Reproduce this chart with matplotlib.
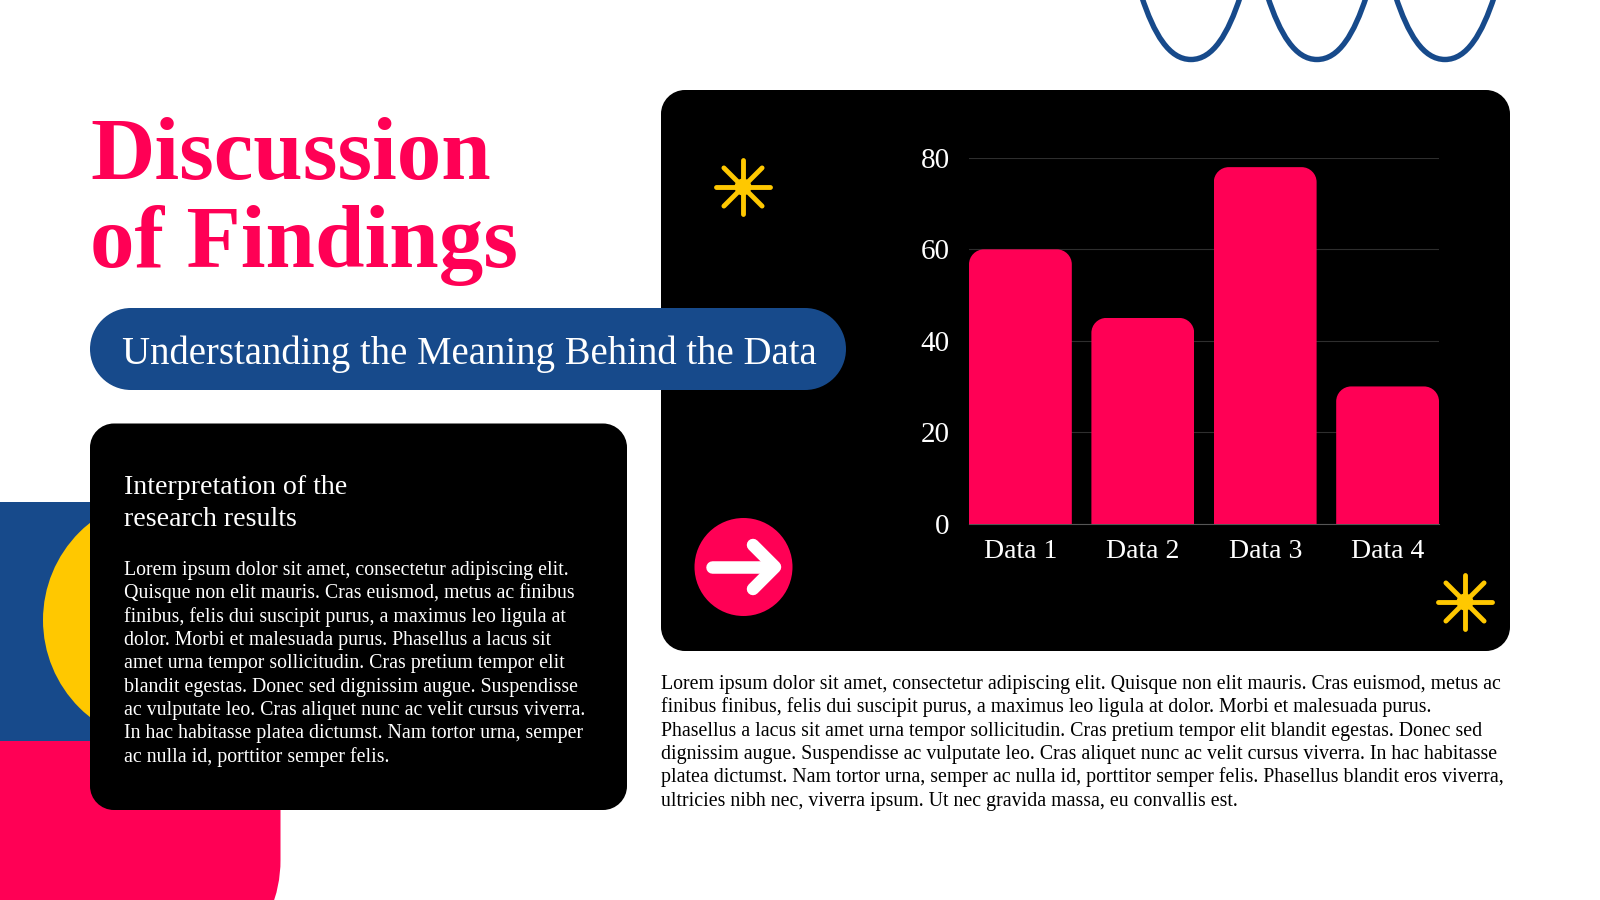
import numpy as np
import matplotlib
matplotlib.use("Agg")
import matplotlib.pyplot as plt
from matplotlib.patches import Rectangle, Circle, PathPatch
from matplotlib.path import Path

plt.rcParams['font.family'] = ['Liberation Serif', 'DejaVu Serif']

# --- data ---
categories = ["Data 1", "Data 2", "Data 3", "Data 4"]
values = [60, 45, 78, 30]
y_ticks = [0, 20, 40, 60, 80]

title_lines = ["Discussion", "of Findings"]
subtitle = "Understanding the Meaning Behind the Data"
heading_lines = ["Interpretation of the", "research results"]
left_body = [
    "Lorem ipsum dolor sit amet, consectetur adipiscing elit.",
    "Quisque non elit mauris. Cras euismod, metus ac finibus",
    "finibus, felis dui suscipit purus, a maximus leo ligula at",
    "dolor. Morbi et malesuada purus. Phasellus a lacus sit",
    "amet urna tempor sollicitudin. Cras pretium tempor elit",
    "blandit egestas. Donec sed dignissim augue. Suspendisse",
    "ac vulputate leo. Cras aliquet nunc ac velit cursus viverra.",
    "In hac habitasse platea dictumst. Nam tortor urna, semper",
    "ac nulla id, porttitor semper felis.",
]
right_body = [
    "Lorem ipsum dolor sit amet, consectetur adipiscing elit. Quisque non elit mauris. Cras euismod, metus ac",
    "finibus finibus, felis dui suscipit purus, a maximus leo ligula at dolor. Morbi et malesuada purus.",
    "Phasellus a lacus sit amet urna tempor sollicitudin. Cras pretium tempor elit blandit egestas. Donec sed",
    "dignissim augue. Suspendisse ac vulputate leo. Cras aliquet nunc ac velit cursus viverra. In hac habitasse",
    "platea dictumst. Nam tortor urna, semper ac nulla id, porttitor semper felis. Phasellus blandit eros viverra,",
    "ultricies nibh nec, viverra ipsum. Ut nec gravida massa, eu convallis est.",
]

PINK = "#FF0055"
BLUE = "#174A8B"
YELLOW = "#FFC800"
BLACK = "#000000"
K = 0.5523

fig = plt.figure(figsize=(16, 9), dpi=100, facecolor="white")

# pixel-coordinate layer for the slide decoration
bg = fig.add_axes([0, 0, 1, 1], zorder=0)
bg.set_xlim(0, 1600)
bg.set_ylim(900, 0)
bg.axis("off")


def rbox(x0, y0, x1, y1, r, color, z=1):
    c = K * r
    verts = [(x0 + r, y0), (x1 - r, y0),
             (x1 - r + c, y0), (x1, y0 + r - c), (x1, y0 + r),
             (x1, y1 - r),
             (x1, y1 - r + c), (x1 - r + c, y1), (x1 - r, y1),
             (x0 + r, y1),
             (x0 + r - c, y1), (x0, y1 - r + c), (x0, y1 - r),
             (x0, y0 + r),
             (x0, y0 + r - c), (x0 + r - c, y0), (x0 + r, y0),
             (x0 + r, y0)]
    codes = [Path.MOVETO, Path.LINETO,
             Path.CURVE4, Path.CURVE4, Path.CURVE4,
             Path.LINETO,
             Path.CURVE4, Path.CURVE4, Path.CURVE4,
             Path.LINETO,
             Path.CURVE4, Path.CURVE4, Path.CURVE4,
             Path.LINETO,
             Path.CURVE4, Path.CURVE4, Path.CURVE4,
             Path.CLOSEPOLY]
    p = PathPatch(Path(verts, codes), fc=color, ec="none", zorder=z)
    bg.add_patch(p)
    return p


def star(cx, cy, R=27):
    for a in np.deg2rad([0, 45, 90, 135]):
        dx, dy = R * np.cos(a), R * np.sin(a)
        bg.plot([cx - dx, cx + dx], [cy - dy, cy + dy], color=YELLOW,
                lw=3.5, solid_capstyle="round", zorder=5)
    bg.add_patch(Circle((cx, cy), 8.5, fc=YELLOW, ec="none", zorder=5))


# left decorations
rbox(-150, 510, 280.5, 990, 130, PINK, 0.5)
bg.add_patch(Rectangle((0, 502), 300, 238.5, fc=BLUE, ec="none", zorder=1))
bg.add_patch(Circle((167, 620), 124, fc=YELLOW, ec="none", zorder=2))

# waves at the top
for cx in (1191, 1317, 1445):
    verts = [(cx - 49.5, -4), (cx - 37, 34), (cx - 22, 59.5), (cx, 59.5),
             (cx + 22, 59.5), (cx + 37, 34), (cx + 49.5, -4)]
    codes = [Path.MOVETO] + [Path.CURVE4] * 6
    bg.add_patch(PathPatch(Path(verts, codes), fc="none", ec=BLUE, lw=3.9, zorder=2))

# panels
rbox(661, 90, 1510, 651, 24, BLACK, 4)
rbox(90, 423.5, 627, 810, 24, BLACK, 4)
rbox(90, 308, 846, 390, 41, BLUE, 6)

star(743, 187)
star(1465, 602)

# arrow button
bg.add_patch(Circle((743.5, 567), 49, fc=PINK, ec="none", zorder=5))
bg.plot([712, 773], [567, 567], color="white", lw=9, solid_capstyle="round", zorder=6)
bg.plot([753, 775, 753], [545, 567, 589], color="white", lw=9,
        solid_capstyle="round", solid_joinstyle="round", zorder=6)

# text
for t, yb in zip(title_lines, (179, 267)):
    bg.text(90, yb, t, color=PINK, fontsize=64.1, fontweight="bold", va="baseline", ha="left", zorder=7)
bg.text(122, 364, subtitle, color="white", fontsize=27.95, va="baseline", ha="left", zorder=7)
for t, yb in zip(heading_lines, (493.5, 526)):
    bg.text(124, yb, t, color="white", fontsize=20.1, va="baseline", ha="left", zorder=7)
for i, t in enumerate(left_body):
    bg.text(124, 575 + i * 23.35, t, color="white", fontsize=14.3, va="baseline", ha="left", zorder=7)
for i, t in enumerate(right_body):
    bg.text(661, 689 + i * 23.35, t, color="black", fontsize=14.33, va="baseline", ha="left", zorder=7)

# bar chart
ax = fig.add_axes([969 / 1600, 1 - 523.5 / 900, 470 / 1600, (523.5 - 158) / 900], zorder=2)
ax.patch.set_alpha(0)
x = np.arange(len(categories))
BAR_W = 0.84
bars = ax.bar(x, values, width=BAR_W, color=PINK, zorder=3, linewidth=0)
ax.set_xlim(-0.42, 3.42)
ax.set_ylim(0, 80)
ax.set_xticks(x, categories)
ax.set_yticks(y_ticks)
ax.tick_params(length=0, labelcolor="white", labelsize=20)
ax.tick_params(axis="x", pad=11)
ax.tick_params(axis="y", pad=14, labelsize=21)
ax.grid(axis="y", color="#2e2e2e", lw=0.8, zorder=1)
ax.set_axisbelow(True)
for s in ("top", "right", "left"):
    ax.spines[s].set_visible(False)
ax.spines["bottom"].set_color("#555555")
ax.spines["bottom"].set_linewidth(0.8)

# round the top corners of each bar with a clip path (radius in pixels)
rx = 15 / (470 / 3.84)
ry = 15 / (365.5 / 80)
for b in bars:
    x0, x1 = b.get_x(), b.get_x() + b.get_width()
    h = b.get_height()
    verts = [(x0, -2), (x0, h - ry),
             (x0, h - ry + K * ry), (x0 + rx - K * rx, h), (x0 + rx, h),
             (x1 - rx, h),
             (x1 - rx + K * rx, h), (x1, h - ry + K * ry), (x1, h - ry),
             (x1, -2), (x0, -2)]
    codes = [Path.MOVETO, Path.LINETO, Path.CURVE4, Path.CURVE4, Path.CURVE4,
             Path.LINETO, Path.CURVE4, Path.CURVE4, Path.CURVE4, Path.LINETO, Path.CLOSEPOLY]
    b.set_clip_path(Path(verts, codes), ax.transData)

fig.savefig("out.png", dpi=100, facecolor="white")
